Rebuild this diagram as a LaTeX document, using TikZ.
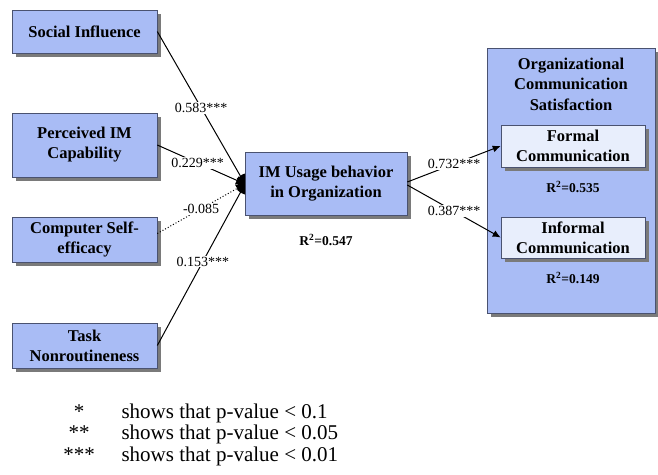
\documentclass[tikz,border=0pt]{standalone}
\usepackage{fontspec}
\setmainfont{Liberation Serif}[BoldFont={Liberation Serif Bold}]
\usetikzlibrary{arrows.meta}
\definecolor{boxblue}{HTML}{A9BCF5}
\definecolor{inbox}{HTML}{E8EEFC}
\definecolor{edgegray}{HTML}{4A5270}
\definecolor{shadowgray}{HTML}{7A7A7A}
\begin{document}
\begin{tikzpicture}[x=1pt,y=-1pt,
  box/.style={draw=edgegray, line width=0.6pt, fill=boxblue,
    preaction={draw=none, fill=shadowgray, transform canvas={xshift=3.5pt, yshift=-3.5pt}},
    align=center, font=\fontsize{16.5}{20}\selectfont\bfseries, inner sep=0pt},
  inbox/.style={box, fill=inbox},
  conn/.style={line width=1pt, -{Latex[length=9pt,width=9pt]}},
  lab/.style={fill=white, inner sep=1pt, font=\fontsize{14}{14}\selectfont},
  rsq/.style={font=\fontsize{13.5}{14}\selectfont\bfseries},
  legtxt/.style={anchor=base west, font=\fontsize{21}{21}\selectfont},
  legstar/.style={anchor=base, font=\fontsize{21}{21}\selectfont}]
\useasboundingbox (0,0) rectangle (658,474);
% left boxes
\node[box, minimum width=145, minimum height=43] (si) at (84.5,31.5) {Social Influence};
\node[box, minimum width=145, minimum height=64] (pc) at (84.5,145) {Perceived IM\\Capability};
\node[box, minimum width=145, minimum height=45] (cs) at (84.5,239.5) {Computer Self-\\efficacy};
\node[box, minimum width=145, minimum height=45] (tn) at (84.5,345.5) {Task\\Nonroutineness};
% central box
\node[box, minimum width=162, minimum height=63] (im) at (326,183.5) {IM Usage behavior\\in Organization};
\node[rsq] (r0) at (326,240) {R\textsuperscript{2}=0.547};
% right container
\node[box, minimum width=168, minimum height=265] (ocs) at (571,180.5) {};
\node[align=center, font=\fontsize{16.5}{20.5}\selectfont\bfseries] (ttl) at (571,84) {Organizational\\Communication\\Satisfaction};
\node[inbox, minimum width=144, minimum height=42] (fc) at (573,146) {Formal\\Communication};
\node[rsq] (r1) at (573,187) {R\textsuperscript{2}=0.535};
\node[inbox, minimum width=144, minimum height=41] (ic) at (573,237.5) {Informal\\Communication};
\node[rsq] (r2) at (573,278) {R\textsuperscript{2}=0.149};
% convergence point
\coordinate (conv) at (245,184);
\draw[conn] (si.east) -- node[lab, pos=0.5] {0.583***} (conv);
\draw[conn] (pc.east) -- node[lab, pos=0.46] {0.229***} (conv);
\draw[conn, dotted] ([yshift=6pt]cs.east) -- node[lab, pos=0.5] {-0.085} (conv);
\draw[conn] (tn.east) -- node[lab, pos=0.52] {0.153***} (conv);
\fill (245,173.5) .. controls (235,175) and (235,193) .. (245,194.5) -- cycle;
% outgoing
\draw[line width=1pt, -{Latex[length=8pt,width=7pt]}] ([yshift=1.5pt]im.east) -- node[lab, pos=0.5] {0.732***} (fc.west);
\draw[line width=1pt, -{Latex[length=8pt,width=7pt]}] ([yshift=-1.5pt]im.east) -- node[lab, pos=0.5] {0.387***} (ic.west);
% legend
\node[legstar] (s1) at (79,418) {*};
\node[legtxt] (t1) at (118,418) {shows that p-value < 0.1};
\node[legstar] (s2) at (79,439.5) {**};
\node[legtxt] (t2) at (118,439.5) {shows that p-value < 0.05};
\node[legstar] (s3) at (79,461) {***};
\node[legtxt] (t3) at (118,461) {shows that p-value < 0.01};
\end{tikzpicture}
\end{document}
